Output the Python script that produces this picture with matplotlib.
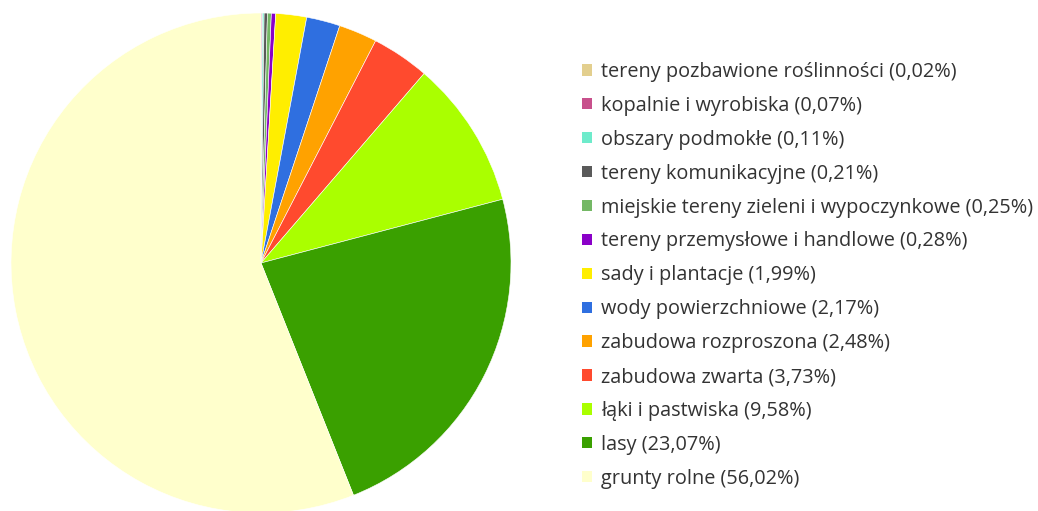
import matplotlib
matplotlib.use("Agg")
import matplotlib.pyplot as plt
from matplotlib.patches import Patch

labels = [
    "tereny pozbawione roślinności",
    "kopalnie i wyrobiska",
    "obszary podmokłe",
    "tereny komunikacyjne",
    "miejskie tereny zieleni i wypoczynkowe",
    "tereny przemysłowe i handlowe",
    "sady i plantacje",
    "wody powierzchniowe",
    "zabudowa rozproszona",
    "zabudowa zwarta",
    "łąki i pastwiska",
    "lasy",
    "grunty rolne",
]
values = [0.02, 0.07, 0.11, 0.21, 0.25, 0.28, 1.99, 2.17, 2.48, 3.73, 9.58, 23.07, 56.02]
colors = ["#E3CF8E", "#C8508C", "#6EEBCB", "#5A5A5A", "#74B865", "#8A00C8",
          "#FFEE00", "#2F6FE0", "#FFA200", "#FF4A2E", "#AAFF00", "#3AA000", "#FFFFCC"]

W, H = 1038, 511
fig = plt.figure(figsize=(W / 100, H / 100), dpi=100)
fig.patch.set_facecolor("white")

cx, cy, r = 261, 263, 250
ax = fig.add_axes([(cx - r) / W, (H - cy - r) / H, 2 * r / W, 2 * r / H])
ax.pie(values, colors=colors, startangle=90, counterclock=False, radius=1,
       wedgeprops=dict(edgecolor="white", linewidth=0.4))
ax.set_xlim(-1, 1)
ax.set_ylim(-1, 1)
ax.set_aspect("equal")
ax.axis("off")

handles = [Patch(facecolor=c, edgecolor="none") for c in colors]
leg_labels = [f"{l} ({format(v, '.2f').replace('.', ',')}%)" for l, v in zip(labels, values)]
leg = fig.legend(handles, leg_labels, loc="upper left",
                 bbox_to_anchor=(574 / W, 1 - 54 / H), frameon=False,
                 prop=dict(family="Open Sans", size=14.3),
                 labelcolor="#333333", handlelength=0.5, handleheight=0.5,
                 handletextpad=0.45, labelspacing=0.7, borderaxespad=0)

fig.savefig("out.png", dpi=100, facecolor="white")
